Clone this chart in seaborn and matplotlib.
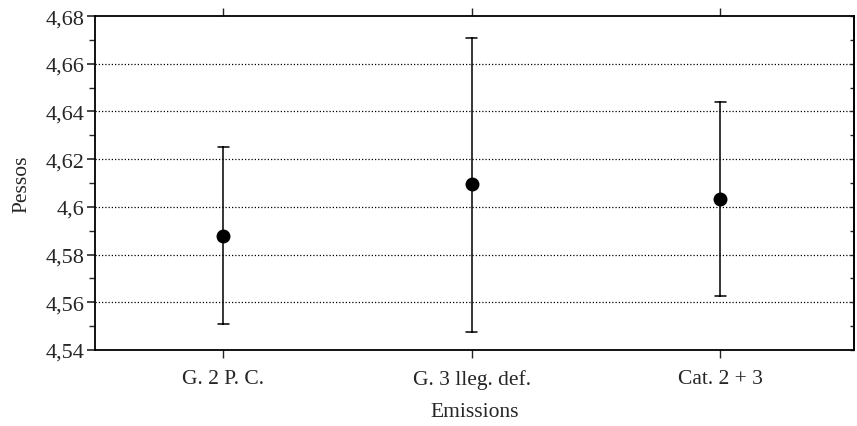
import numpy as np
import pandas as pd
import matplotlib
matplotlib.use("Agg")
import matplotlib.pyplot as plt
import seaborn as sns
from matplotlib.ticker import MultipleLocator, FuncFormatter

# values (lower CI, mean, upper CI)
categories = ["G. 2 P. C.", "G. 3 lleg. def.", "Cat. 2 + 3"]
means = [4.5877, 4.6095, 4.6032]
lower = [4.5510, 4.5475, 4.5625]
upper = [4.6250, 4.6710, 4.6440]

y_ticks = [4.54, 4.56, 4.58, 4.60, 4.62, 4.64, 4.66, 4.68]

# long table: the median of the three rows is the mean, min/max are the CI ends
rows = []
for c, lo, m, hi in zip(categories, lower, means, upper):
    for v in (lo, m, hi):
        rows.append({"Emissions": c, "Pessos": v})
df = pd.DataFrame(rows)

sns.set_style("ticks")
plt.rcParams["font.family"] = ["Liberation Serif", "DejaVu Serif"]
plt.rcParams["font.size"] = 15.5

fig, ax = plt.subplots(figsize=(8.57, 4.27), dpi=100)
fig.subplots_adjust(left=0.111, right=0.997, top=0.960, bottom=0.178)

sns.pointplot(
    data=df, x="Emissions", y="Pessos", order=categories,
    estimator="median", errorbar=lambda v: (v.min(), v.max()),
    color="black", linestyle="none", markersize=8,
    capsize=0.045, err_kws={"linewidth": 1.1}, ax=ax,
)

ax.set_xlim(-0.515, 2.54)
ax.set_ylim(y_ticks[0], y_ticks[-1])
ax.set_yticks(y_ticks)
ax.yaxis.set_minor_locator(MultipleLocator(0.01))
ax.yaxis.set_major_formatter(FuncFormatter(lambda v, p: f"{v:g}".replace(".", ",")))

for y in y_ticks[1:-1]:
    ax.axhline(y, color="black", linestyle=(0, (1, 1.6)), linewidth=0.9, zorder=0)

for s in ax.spines.values():
    s.set_visible(True)
    s.set_color("black")
    s.set_linewidth(1.3)

ax.tick_params(axis="y", which="major", direction="out", length=6, width=1.2,
               left=True, right=False, labelsize=16, pad=2)
ax.tick_params(axis="y", which="minor", direction="out", length=4, width=1.0,
               left=True, right=False)
ax.tick_params(axis="x", which="major", direction="out", length=6, width=1.0,
               bottom=True, top=True, labelsize=15.5, pad=8)

# short inward ticks on the right frame
ax2 = ax.secondary_yaxis("right")
ax2.set_yticks(y_ticks)
ax2.yaxis.set_minor_locator(MultipleLocator(0.01))
ax2.tick_params(axis="y", which="both", direction="in", length=3, width=1.0,
                labelright=False)
ax2.spines["right"].set_linewidth(1.3)

ax.set_xlabel("Emissions", fontsize=15.5, labelpad=9)
ax.set_ylabel("Pessos", fontsize=15.5, labelpad=10)

fig.savefig("out.png", dpi=100)
